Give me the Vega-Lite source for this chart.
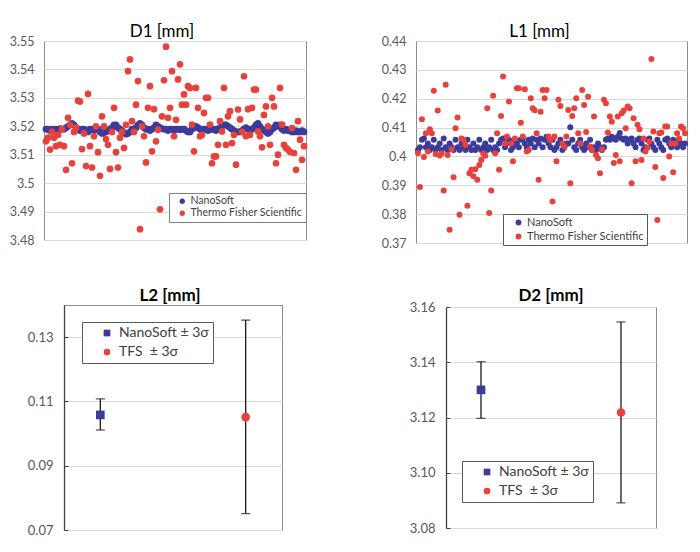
{
"$schema": "https://vega.github.io/schema/vega-lite/v6.json",
"padding": {"left": 0, "top": 22, "right": 0, "bottom": 0},
"background": "white",
"config": {
  "font": "Lato",
  "view": {"stroke": "#8c8c8c", "strokeWidth": 1},
  "axis": {"labelFont": "Lato", "labelFontSize": 12.5, "labelColor": "#595959", "gridColor": "#d9d9d9", "gridWidth": 1, "title": null},
  "title": {"font": "Lato", "color": "#000000", "fontSize": 17, "offset": -6}
},
"datasets": {
"d1": [
{"i":1,"n":3.519,"t":3.5147},{"i":2,"n":3.519,"t":3.516},{"i":3,"n":3.5185,"t":3.5118},{"i":4,"n":3.519,"t":3.518},{"i":5,"n":3.5185,"t":3.516},
{"i":6,"n":3.519,"t":3.513},{"i":7,"n":3.5188,"t":3.517},{"i":8,"n":3.5192,"t":3.5135},{"i":9,"n":3.519,"t":3.519},{"i":10,"n":3.519,"t":3.513},
{"i":11,"n":3.5195,"t":3.5047},{"i":12,"n":3.52,"t":3.523},{"i":13,"n":3.5205,"t":3.5205},{"i":14,"n":3.521,"t":3.507},{"i":15,"n":3.5205,"t":3.518},
{"i":16,"n":3.5195,"t":3.5195},{"i":17,"n":3.519,"t":3.529},{"i":18,"n":3.5185,"t":3.5287},{"i":19,"n":3.519,"t":3.512},{"i":20,"n":3.519,"t":3.5175},
{"i":21,"n":3.5185,"t":3.506},{"i":22,"n":3.518,"t":3.5314},{"i":23,"n":3.519,"t":3.513},{"i":24,"n":3.519,"t":3.5055},{"i":25,"n":3.5185,"t":3.5165},
{"i":26,"n":3.519,"t":3.52},{"i":27,"n":3.519,"t":3.5109},{"i":28,"n":3.518,"t":3.5026},{"i":29,"n":3.5175,"t":3.5235},{"i":30,"n":3.5178,"t":3.52},
{"i":31,"n":3.518,"t":3.5155},{"i":32,"n":3.5185,"t":3.5135},{"i":33,"n":3.519,"t":3.505},{"i":34,"n":3.5195,"t":3.518},{"i":35,"n":3.5205,"t":3.5265},
{"i":36,"n":3.5205,"t":3.5109},{"i":37,"n":3.5195,"t":3.5055},{"i":38,"n":3.519,"t":3.516},{"i":39,"n":3.5185,"t":3.518},{"i":40,"n":3.5178,"t":3.5124},
{"i":41,"n":3.5172,"t":3.5205},{"i":42,"n":3.5175,"t":3.5394},{"i":43,"n":3.518,"t":3.5435},{"i":44,"n":3.519,"t":3.5218},{"i":45,"n":3.519,"t":3.518},
{"i":46,"n":3.5195,"t":3.5276},{"i":47,"n":3.5205,"t":3.5359},{"i":48,"n":3.521,"t":3.4838},{"i":49,"n":3.5205,"t":3.52},{"i":50,"n":3.5195,"t":3.5165},
{"i":51,"n":3.519,"t":3.5073},{"i":52,"n":3.519,"t":3.5265},{"i":53,"n":3.5185,"t":3.5341},{"i":54,"n":3.519,"t":3.5112},{"i":55,"n":3.5195,"t":3.526},
{"i":56,"n":3.5205,"t":3.5147},{"i":57,"n":3.52,"t":3.5188},{"i":58,"n":3.5195,"t":3.4908},{"i":59,"n":3.5192,"t":3.5235},{"i":60,"n":3.519,"t":3.5362},
{"i":61,"n":3.519,"t":3.548},{"i":62,"n":3.5185,"t":3.523},{"i":63,"n":3.519,"t":3.5265},{"i":64,"n":3.519,"t":3.5394},{"i":65,"n":3.5185,"t":3.5165},
{"i":66,"n":3.519,"t":3.5223},{"i":67,"n":3.519,"t":3.5365},{"i":68,"n":3.5188,"t":3.5418},{"i":69,"n":3.519,"t":3.5276},{"i":70,"n":3.519,"t":3.5312},
{"i":71,"n":3.5185,"t":3.5276},{"i":72,"n":3.518,"t":3.5341},{"i":73,"n":3.518,"t":3.5335},{"i":74,"n":3.519,"t":3.5206},{"i":75,"n":3.5195,"t":3.5112},
{"i":76,"n":3.52,"t":3.5335},{"i":77,"n":3.5195,"t":3.5265},{"i":78,"n":3.519,"t":3.5165},{"i":79,"n":3.5185,"t":3.517},{"i":80,"n":3.519,"t":3.5247},
{"i":81,"n":3.519,"t":3.53},{"i":82,"n":3.5185,"t":3.53},{"i":83,"n":3.5188,"t":3.5206},{"i":84,"n":3.519,"t":3.507},{"i":85,"n":3.519,"t":3.5094},
{"i":86,"n":3.5185,"t":3.5094},{"i":87,"n":3.519,"t":3.5135},{"i":88,"n":3.5195,"t":3.5218},{"i":89,"n":3.52,"t":3.5182},{"i":90,"n":3.5205,"t":3.5335},
{"i":91,"n":3.5205,"t":3.5135},{"i":92,"n":3.52,"t":3.5235},{"i":93,"n":3.5195,"t":3.5253},{"i":94,"n":3.519,"t":3.5141},{"i":95,"n":3.5185,"t":3.517},
{"i":96,"n":3.518,"t":3.5065},{"i":97,"n":3.518,"t":3.5259},{"i":98,"n":3.518,"t":3.5224},{"i":99,"n":3.5185,"t":3.518},{"i":100,"n":3.519,"t":3.5376},
{"i":101,"n":3.5195,"t":3.5165},{"i":102,"n":3.519,"t":3.526},{"i":103,"n":3.5185,"t":3.517},{"i":104,"n":3.519,"t":3.5265},{"i":105,"n":3.5195,"t":3.5329},
{"i":106,"n":3.5205,"t":3.5329},{"i":107,"n":3.521,"t":3.5182},{"i":108,"n":3.52,"t":3.5165},{"i":109,"n":3.519,"t":3.5126},{"i":110,"n":3.5185,"t":3.524},
{"i":111,"n":3.518,"t":3.527},{"i":112,"n":3.5175,"t":3.52},{"i":113,"n":3.518,"t":3.5135},{"i":114,"n":3.519,"t":3.53},{"i":115,"n":3.5195,"t":3.527},
{"i":116,"n":3.5205,"t":3.507},{"i":117,"n":3.52,"t":3.51},{"i":118,"n":3.5205,"t":3.5335},{"i":119,"n":3.519,"t":3.5206},{"i":120,"n":3.5185,"t":3.5135},
{"i":121,"n":3.519,"t":3.5124},{"i":122,"n":3.5185,"t":3.5118},{"i":123,"n":3.5185,"t":3.511},{"i":124,"n":3.518,"t":3.5194},{"i":125,"n":3.518,"t":3.5106},
{"i":126,"n":3.5185,"t":3.5047},{"i":127,"n":3.518,"t":3.5218},{"i":128,"n":3.518,"t":3.5153},{"i":129,"n":3.5185,"t":3.5082},{"i":130,"n":3.518,"t":3.513}
],
"l1": [
{"i":1,"n":0.4022,"t":0.4011},{"i":2,"n":0.4032,"t":0.3894},{"i":3,"n":0.4058,"t":0.4129},{"i":4,"n":0.4062,"t":0.3998},{"i":5,"n":0.4032,"t":0.408},
{"i":6,"n":0.4045,"t":0.4017},{"i":7,"n":0.4022,"t":0.4094},{"i":8,"n":0.4032,"t":0.408},{"i":9,"n":0.4058,"t":0.4228},{"i":10,"n":0.4022,"t":0.4008},
{"i":11,"n":0.4032,"t":0.4159},{"i":12,"n":0.4045,"t":0.4003},{"i":13,"n":0.4022,"t":0.401},{"i":14,"n":0.4062,"t":0.3882},{"i":15,"n":0.4032,"t":0.4248},
{"i":16,"n":0.4022,"t":0.4005},{"i":17,"n":0.4045,"t":0.3746},{"i":18,"n":0.4032,"t":0.4025},{"i":19,"n":0.4022,"t":0.3928},{"i":20,"n":0.4058,"t":0.4098},
{"i":21,"n":0.4032,"t":0.4135},{"i":22,"n":0.4022,"t":0.3798},{"i":23,"n":0.4045,"t":0.4062},{"i":24,"n":0.4032,"t":0.4057},{"i":25,"n":0.4022,"t":0.404},
{"i":26,"n":0.4058,"t":0.3829},{"i":27,"n":0.4032,"t":0.3942},{"i":28,"n":0.4022,"t":0.3954},{"i":29,"n":0.4045,"t":0.3931},{"i":30,"n":0.4022,"t":0.3956},
{"i":31,"n":0.4032,"t":0.3919},{"i":32,"n":0.4058,"t":0.397},{"i":33,"n":0.4022,"t":0.3988},{"i":34,"n":0.4032,"t":0.4009},{"i":35,"n":0.4045,"t":0.4002},
{"i":36,"n":0.4022,"t":0.4167},{"i":37,"n":0.4032,"t":0.3804},{"i":38,"n":0.4058,"t":0.3882},{"i":39,"n":0.4022,"t":0.421},{"i":40,"n":0.4032,"t":0.4011},
{"i":41,"n":0.4022,"t":0.408},{"i":42,"n":0.4045,"t":0.3954},{"i":43,"n":0.4058,"t":0.414},{"i":44,"n":0.4062,"t":0.4277},{"i":45,"n":0.4032,"t":0.4045},
{"i":46,"n":0.4045,"t":0.4069},{"i":47,"n":0.4058,"t":0.419},{"i":48,"n":0.4022,"t":0.4045},{"i":49,"n":0.4032,"t":0.3983},{"i":50,"n":0.4058,"t":0.4062},
{"i":51,"n":0.4045,"t":0.4236},{"i":52,"n":0.4032,"t":0.4236},{"i":53,"n":0.4058,"t":0.4117},{"i":54,"n":0.4062,"t":0.4069},{"i":55,"n":0.4045,"t":0.4233},
{"i":56,"n":0.4032,"t":0.4017},{"i":57,"n":0.4058,"t":0.4022},{"i":58,"n":0.4045,"t":0.4202},{"i":59,"n":0.4062,"t":0.4167},{"i":60,"n":0.4032,"t":0.416},
{"i":61,"n":0.4058,"t":0.408},{"i":62,"n":0.4045,"t":0.3919},{"i":63,"n":0.4062,"t":0.4155},{"i":64,"n":0.4032,"t":0.423},{"i":65,"n":0.4058,"t":0.4202},
{"i":66,"n":0.4068,"t":0.423},{"i":67,"n":0.4045,"t":0.4069},{"i":68,"n":0.4032,"t":0.4057},{"i":69,"n":0.4058,"t":0.3844},{"i":70,"n":0.4022,"t":0.4069},
{"i":71,"n":0.4032,"t":0.3983},{"i":72,"n":0.4045,"t":0.4196},{"i":73,"n":0.4058,"t":0.4175},{"i":74,"n":0.4022,"t":0.4045},{"i":75,"n":0.4032,"t":0.4034},
{"i":76,"n":0.4045,"t":0.4069},{"i":77,"n":0.4045,"t":0.4161},{"i":78,"n":0.4101,"t":0.3907},{"i":79,"n":0.4058,"t":0.414},{"i":80,"n":0.4032,"t":0.4167},
{"i":81,"n":0.4022,"t":0.4202},{"i":82,"n":0.4045,"t":0.408},{"i":83,"n":0.4058,"t":0.4045},{"i":84,"n":0.4032,"t":0.423},{"i":85,"n":0.4022,"t":0.4178},
{"i":86,"n":0.4045,"t":0.4085},{"i":87,"n":0.4032,"t":0.4207},{"i":88,"n":0.4058,"t":0.4034},{"i":89,"n":0.4022,"t":0.4022},{"i":90,"n":0.4032,"t":0.4138},
{"i":91,"n":0.4022,"t":0.4005},{"i":92,"n":0.4045,"t":0.3994},{"i":93,"n":0.4032,"t":0.3942},{"i":94,"n":0.4022,"t":0.4025},{"i":95,"n":0.4032,"t":0.4196},
{"i":96,"n":0.4058,"t":0.4184},{"i":97,"n":0.4062,"t":0.4083},{"i":98,"n":0.4058,"t":0.4138},{"i":99,"n":0.4068,"t":0.412},{"i":100,"n":0.4062,"t":0.3977},
{"i":101,"n":0.4058,"t":0.4005},{"i":102,"n":0.4068,"t":0.4138},{"i":103,"n":0.4081,"t":0.3983},{"i":104,"n":0.4062,"t":0.415},{"i":105,"n":0.4058,"t":0.4159},
{"i":106,"n":0.4062,"t":0.4098},{"i":107,"n":0.4045,"t":0.4173},{"i":108,"n":0.4058,"t":0.4167},{"i":109,"n":0.4062,"t":0.3907},{"i":110,"n":0.4045,"t":0.4132},
{"i":111,"n":0.4032,"t":0.3983},{"i":112,"n":0.4058,"t":0.411},{"i":113,"n":0.4062,"t":0.4094},{"i":114,"n":0.4045,"t":0.3988},{"i":115,"n":0.4022,"t":0.4062},
{"i":116,"n":0.4032,"t":0.4017},{"i":117,"n":0.4058,"t":0.403},{"i":118,"n":0.4062,"t":0.4052},{"i":119,"n":0.4045,"t":0.4338},{"i":120,"n":0.4032,"t":0.4086},
{"i":121,"n":0.4022,"t":0.3963},{"i":122,"n":0.4058,"t":0.378},{"i":123,"n":0.4045,"t":0.408},{"i":124,"n":0.4032,"t":0.4083},{"i":125,"n":0.4022,"t":0.3925},
{"i":126,"n":0.4058,"t":0.4104},{"i":127,"n":0.4062,"t":0.4104},{"i":128,"n":0.4045,"t":0.4},{"i":129,"n":0.4032,"t":0.4045},{"i":130,"n":0.4058,"t":0.3945},
{"i":131,"n":0.4045,"t":0.4045},{"i":132,"n":0.4032,"t":0.408},{"i":133,"n":0.4058,"t":0.4062},{"i":134,"n":0.4045,"t":0.4104},{"i":135,"n":0.4032,"t":0.4098},
{"i":136,"n":0.4045,"t":0.408}
],
"l2": [
{"s":"NanoSoft ± 3σ","m":0.1058,"lo":0.1011,"hi":0.1108},
{"s":"TFS\u00a0 ± 3σ","m":0.1051,"lo":0.0751,"hi":0.1353}
],
"d2": [
{"s":"NanoSoft ± 3σ","m":3.130,"lo":3.1197,"hi":3.1402},
{"s":"TFS\u00a0 ± 3σ","m":3.1218,"lo":3.0891,"hi":3.1546}
],
"blank": [{"k": 0}]
},
"resolve": {"scale": {"color": "independent", "shape": "independent"}, "legend": {"color": "independent", "shape": "independent"}},
"columns": 3,
"align": "none",
"spacing": {"row": 36, "column": 0},
"concat": [
{
"width": 1, "height": 1, "view": {"stroke": null},
"data": {"name": "blank"},
"mark": {"type": "point", "opacity": 0},
"encoding": {}
},
{
"width": 262, "height": 199,
"title": {"text": "D1 [mm]", "fontWeight": "normal", "dx": -13},
"data": {"name": "d1"},
"transform": [{"fold": ["n", "t"], "as": ["s", "v"]}],
"mark": {"type": "circle", "size": 45, "opacity": 1},
"encoding": {
  "x": {"field": "i", "type": "quantitative", "scale": {"domain": [0, 131], "nice": false, "zero": false}, "axis": null},
  "y": {"field": "v", "type": "quantitative", "scale": {"domain": [3.48, 3.55], "nice": false, "zero": false},
        "axis": {"values": [3.48, 3.49, 3.5, 3.51, 3.52, 3.53, 3.54, 3.55], "format": ".2~f", "domain": false, "ticks": false, "grid": true, "labelPadding": 10, "minExtent": 36, "maxExtent": 36}},
  "color": {"field": "s", "type": "nominal", "scale": {"domain": ["n", "t"], "range": ["#3B3B9C", "#E8413C"]},
            "legend": {"title": null, "orient": "none", "legendX": 125, "legendY": 152, "fillColor": "white", "strokeColor": "#7f7f7f", "padding": 3, "symbolOffset": 5, "labelOffset": 3, "labelFontSize": 10.5, "labelColor": "#404040", "symbolSize": 28, "symbolType": "circle", "rowPadding": 1,
                       "labelExpr": "datum.label == 'n' ? 'NanoSoft' : 'Thermo Fisher Scientific'"}},
  "order": {"field": "s"}
}
},
{
"width": 271, "height": 202,
"title": {"text": "L1 [mm]", "fontWeight": "normal", "dx": -12},
"data": {"name": "l1"},
"transform": [{"fold": ["n", "t"], "as": ["s", "v"]}],
"mark": {"type": "circle", "size": 36, "opacity": 1},
"encoding": {
  "x": {"field": "i", "type": "quantitative", "scale": {"domain": [0, 137], "nice": false, "zero": false}, "axis": null},
  "y": {"field": "v", "type": "quantitative", "scale": {"domain": [0.37, 0.44], "nice": false, "zero": false},
        "axis": {"values": [0.37, 0.38, 0.39, 0.4, 0.41, 0.42, 0.43, 0.44], "format": ".2~f", "domain": false, "ticks": false, "grid": true, "labelPadding": 10, "minExtent": 107, "maxExtent": 107}},
  "color": {"field": "s", "type": "nominal", "scale": {"domain": ["n", "t"], "range": ["#3B3B9C", "#E8413C"]},
            "legend": {"title": null, "orient": "none", "legendX": 87, "legendY": 173, "fillColor": "white", "strokeColor": "#595959", "padding": 3, "symbolOffset": 7, "labelOffset": 3, "labelFontSize": 11, "labelColor": "#404040", "symbolSize": 34, "symbolType": "circle", "rowPadding": 2,
                       "labelExpr": "datum.label == 'n' ? 'NanoSoft' : 'Thermo Fisher Scientific'"}},
  "order": {"field": "s"}
}
},
{
"width": 1, "height": 1, "view": {"stroke": null},
"data": {"name": "blank"},
"mark": {"type": "point", "opacity": 0},
"encoding": {}
},
{
"width": 218, "height": 225,
"title": {"text": "L2 [mm]", "fontWeight": "bold", "dx": -3, "offset": 0},
"data": {"name": "l2"},
"encoding": {"x": {"field": "s", "type": "nominal", "scale": {"type": "point", "padding": 0.25}, "axis": null}},
"layer": [
  {"mark": {"type": "rule", "color": "#1a1a1a", "strokeWidth": 1.3},
   "encoding": {"y": {"field": "lo", "type": "quantitative", "scale": {"domain": [0.07, 0.14], "nice": false, "zero": false},
     "axis": {"values": [0.07, 0.075, 0.08, 0.085, 0.09, 0.095, 0.1, 0.105, 0.11, 0.115, 0.12, 0.125, 0.13, 0.135, 0.14],
              "labelExpr": "round(datum.value * 1000) % 20 == 10 ? format(datum.value, '.2f') : ''",
              "gridOpacity": {"condition": {"test": "round(datum.value * 1000) % 20 == 10", "value": 1}, "value": 0},
              "grid": true, "domain": true, "domainColor": "#404040", "domainWidth": 1.3, "ticks": true, "tickSize": -4, "tickColor": "#404040", "labelPadding": 15, "minExtent": 56, "maxExtent": 56, "labelFontSize": 13}},
     "y2": {"field": "hi"}}},
  {"mark": {"type": "tick", "color": "#1a1a1a", "thickness": 1.3, "size": 9}, "encoding": {"y": {"field": "lo", "type": "quantitative"}}},
  {"mark": {"type": "tick", "color": "#1a1a1a", "thickness": 1.3, "size": 9}, "encoding": {"y": {"field": "hi", "type": "quantitative"}}},
  {"mark": {"type": "point", "filled": true, "size": 75, "opacity": 1},
   "encoding": {"y": {"field": "m", "type": "quantitative"},
     "color": {"field": "s", "type": "nominal", "scale": {"domain": ["NanoSoft ± 3σ", "TFS\u00a0 ± 3σ"], "range": ["#3B3B9C", "#E8413C"]},
               "legend": {"title": null, "orient": "none", "legendX": 18, "legendY": 17, "fillColor": "white", "strokeColor": "#595959", "padding": 4, "symbolOffset": 14, "labelOffset": 5, "labelFontSize": 14, "labelColor": "#404040", "symbolSize": 45, "rowPadding": 5}},
     "shape": {"field": "s", "type": "nominal", "scale": {"domain": ["NanoSoft ± 3σ", "TFS\u00a0 ± 3σ"], "range": ["square", "circle"]},
               "legend": {"title": null, "orient": "none", "legendX": 18, "legendY": 17, "fillColor": "white", "strokeColor": "#595959", "padding": 4, "symbolOffset": 14, "labelOffset": 5, "labelFontSize": 14, "labelColor": "#404040", "symbolSize": 45, "rowPadding": 5}}}}
]
},
{
"width": 210, "height": 221,
"title": {"text": "D2 [mm]", "fontWeight": "bold", "offset": -4},
"data": {"name": "d2"},
"encoding": {"x": {"field": "s", "type": "nominal", "scale": {"type": "point", "padding": 0.25}, "axis": null}},
"layer": [
  {"mark": {"type": "rule", "color": "#1a1a1a", "strokeWidth": 1.3},
   "encoding": {"y": {"field": "lo", "type": "quantitative", "scale": {"domain": [3.08, 3.16], "nice": false, "zero": false},
     "axis": {"values": [3.08, 3.085, 3.09, 3.095, 3.1, 3.105, 3.11, 3.115, 3.12, 3.125, 3.13, 3.135, 3.14, 3.145, 3.15, 3.155, 3.16],
              "labelExpr": "round(datum.value * 1000) % 20 == 0 ? format(datum.value, '.2f') : ''",
              "gridOpacity": {"condition": {"test": "round(datum.value * 1000) % 20 == 0", "value": 1}, "value": 0},
              "grid": true, "domain": true, "domainColor": "#404040", "domainWidth": 1.3, "ticks": true, "tickSize": -4, "tickColor": "#404040", "labelPadding": 15, "minExtent": 117, "maxExtent": 117, "labelFontSize": 13}},
     "y2": {"field": "hi"}}},
  {"mark": {"type": "tick", "color": "#1a1a1a", "thickness": 1.3, "size": 9}, "encoding": {"y": {"field": "lo", "type": "quantitative"}}},
  {"mark": {"type": "tick", "color": "#1a1a1a", "thickness": 1.3, "size": 9}, "encoding": {"y": {"field": "hi", "type": "quantitative"}}},
  {"mark": {"type": "point", "filled": true, "size": 75, "opacity": 1},
   "encoding": {"y": {"field": "m", "type": "quantitative"},
     "color": {"field": "s", "type": "nominal", "scale": {"domain": ["NanoSoft ± 3σ", "TFS\u00a0 ± 3σ"], "range": ["#3B3B9C", "#E8413C"]},
               "legend": {"title": null, "orient": "none", "legendX": 16, "legendY": 154, "fillColor": "white", "strokeColor": "#595959", "padding": 4, "symbolOffset": 14, "labelOffset": 5, "labelFontSize": 14, "labelColor": "#404040", "symbolSize": 45, "rowPadding": 5}},
     "shape": {"field": "s", "type": "nominal", "scale": {"domain": ["NanoSoft ± 3σ", "TFS\u00a0 ± 3σ"], "range": ["square", "circle"]},
               "legend": {"title": null, "orient": "none", "legendX": 16, "legendY": 154, "fillColor": "white", "strokeColor": "#595959", "padding": 4, "symbolOffset": 14, "labelOffset": 5, "labelFontSize": 14, "labelColor": "#404040", "symbolSize": 45, "rowPadding": 5}}}}
]
}
]
}
